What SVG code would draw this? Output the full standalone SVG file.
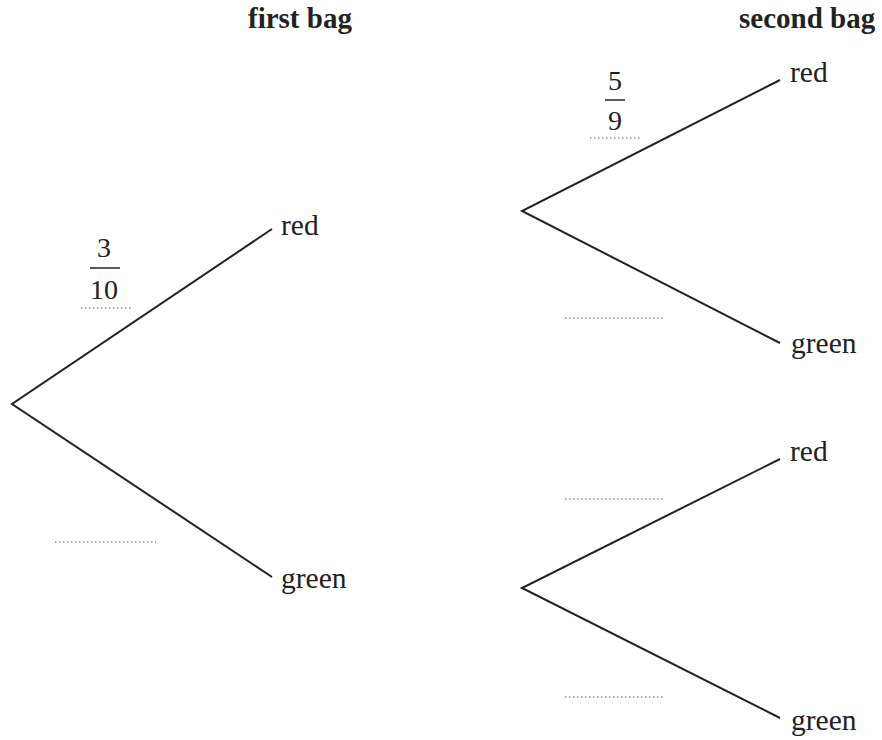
<svg xmlns="http://www.w3.org/2000/svg" width="882" height="740" viewBox="0 0 882 740">
<style>
.lbl{font-family:"Liberation Serif","Times New Roman",serif;font-size:29.5px;fill:#222}
.hdr{font-family:"Liberation Serif","Times New Roman",serif;font-size:29px;font-weight:bold;fill:#222}
.num{font-family:"Liberation Serif","Times New Roman",serif;font-size:28px;fill:#222;text-anchor:middle}
.br{stroke:#222;stroke-width:2;fill:none}
.dot{stroke:#555;stroke-width:1.2;stroke-dasharray:1.5 2.5;fill:none}
.bar{stroke:#222;stroke-width:1.5}
</style>
<rect width="882" height="740" fill="#fff"/>
<g id="headers">
<text class="hdr" x="248" y="28">first bag</text>
<text class="hdr" x="739" y="28">second bag</text>
</g>
<g id="connectors">
<path class="br" d="M272,229 L12,404 L272,577"/>
<path class="br" d="M780,80 L522,211 L780,343"/>
<path class="br" d="M780,459 L522,588 L780,718"/>
</g>
<g id="first-red"><text class="lbl" x="281" y="235">red</text></g>
<g id="first-green"><text class="lbl" x="281" y="588">green</text></g>
<g id="second-red-1"><text class="lbl" x="790" y="82">red</text></g>
<g id="second-green-1"><text class="lbl" x="791" y="353">green</text></g>
<g id="second-red-2"><text class="lbl" x="790" y="461">red</text></g>
<g id="second-green-2"><text class="lbl" x="791" y="730">green</text></g>
<g id="prob-first-red">
<text class="num" x="104" y="257">3</text>
<line class="bar" x1="90" y1="268" x2="120" y2="268"/>
<text class="num" x="104" y="299">10</text>
<line class="dot" x1="81" y1="308" x2="131" y2="308"/>
</g>
<g id="prob-first-green"><line class="dot" x1="55" y1="542" x2="156" y2="542"/></g>
<g id="prob-second-red-1">
<text class="num" x="615" y="90">5</text>
<line class="bar" x1="605" y1="100" x2="625" y2="100"/>
<text class="num" x="615" y="130">9</text>
<line class="dot" x1="590" y1="138" x2="640" y2="138"/>
</g>
<g id="prob-second-green-1"><line class="dot" x1="565" y1="318" x2="665" y2="318"/></g>
<g id="prob-second-red-2"><line class="dot" x1="565" y1="499" x2="665" y2="499"/></g>
<g id="prob-second-green-2"><line class="dot" x1="565" y1="697" x2="665" y2="697"/></g>
</svg>
